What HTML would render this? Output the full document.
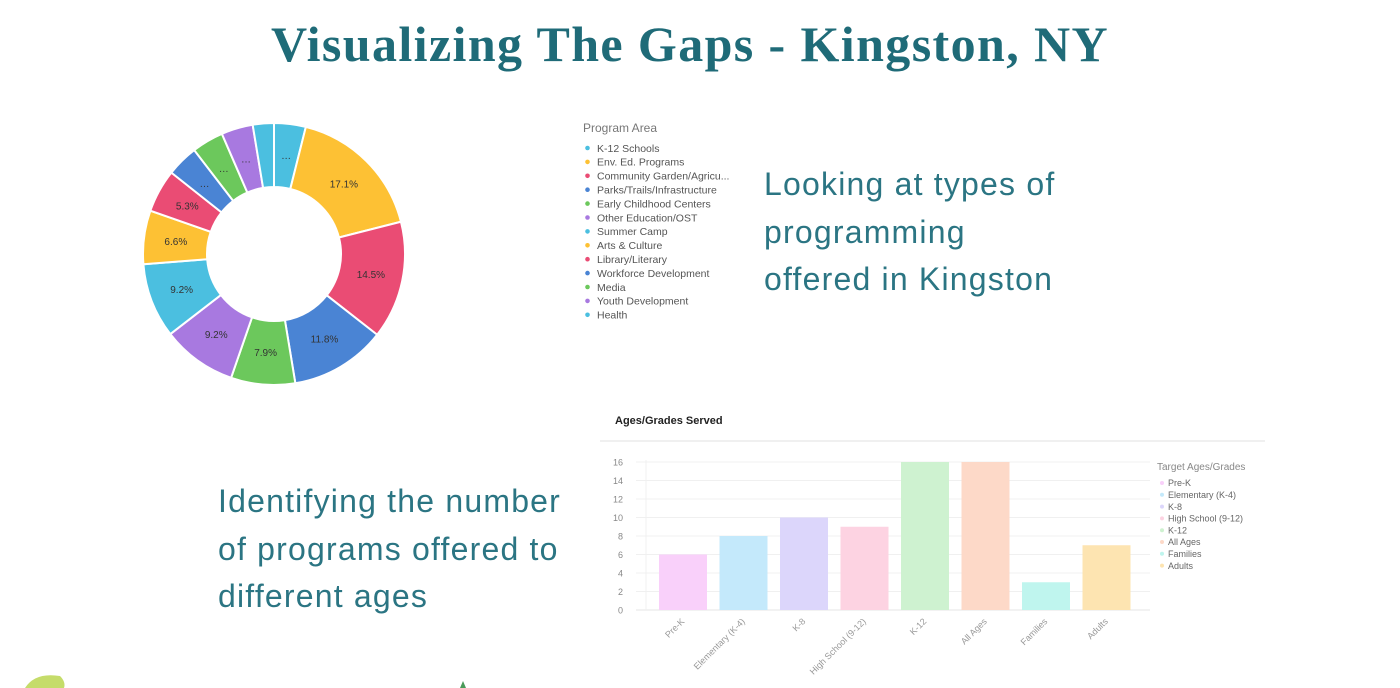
<!DOCTYPE html>
<html><head><meta charset="utf-8"><style>
html,body{margin:0;padding:0;background:#fff;}
body{width:1400px;height:688px;position:relative;overflow:hidden;font-family:"Liberation Sans",sans-serif;}
.t{position:absolute;color:#2b7583;font-size:32px;line-height:47.5px;letter-spacing:1.2px;}
</style></head><body>
<div style="position:absolute;left:-10px;width:1400px;top:15px;text-align:center;font-family:'Liberation Serif',serif;font-weight:bold;font-size:50px;color:#1f6b78;letter-spacing:1.4px;">Visualizing The Gaps - Kingston, NY</div>
<div class="t" style="left:764px;top:161px;">Looking at types of<br>programming<br>offered in Kingston</div>
<div class="t" style="left:218px;top:478px;">Identifying the number<br>of programs offered to<br>different ages</div>
<svg id="s" width="1400" height="688" style="position:absolute;left:0;top:0" font-family="Liberation Sans, sans-serif"></svg>
<script>
var s=document.getElementById('s'),h='';
var C={c:'#4bbfe0',y:'#fdc134',r:'#ea4c74',b:'#4a84d4',g:'#6cc85c',p:'#a879e0'};
var sl=[[3.9,'c','…'],[17.1,'y','17.1%'],[14.5,'r','14.5%'],[11.8,'b','11.8%'],[7.9,'g','7.9%'],[9.2,'p','9.2%'],[9.2,'c','9.2%'],[6.6,'y','6.6%'],[5.3,'r','5.3%'],[3.9,'b','…'],[3.9,'g','…'],[3.9,'p','…'],[2.6,'c','']];
var tot=0;sl.forEach(function(a){tot+=a[0]});
var cx=274,cy=254,R=131,r=67,a0=0;
function pt(rad,a){return [cx+rad*Math.sin(a),cy-rad*Math.cos(a)];}
sl.forEach(function(a){var a1=a0+a[0]/tot*2*Math.PI;var lg=(a1-a0)>Math.PI?1:0;
var p1=pt(R,a0),p2=pt(R,a1),p3=pt(r,a1),p4=pt(r,a0);
h+='<path d="M'+p1+'A'+R+','+R+' 0 '+lg+' 1 '+p2+'L'+p3+'A'+r+','+r+' 0 '+lg+' 0 '+p4+'Z" fill="'+C[a[1]]+'" stroke="#fff" stroke-width="2"/>';
var m=pt((R+r)/2,(a0+a1)/2);h+='<text x="'+m[0]+'" y="'+(m[1]+3.5)+'" font-size="10" fill="#333" text-anchor="middle">'+a[2]+'</text>';a0=a1;});
h+='<text x="583" y="132" font-size="12" fill="#777">Program Area</text>';
var L=[['K-12 Schools','c'],['Env. Ed. Programs','y'],['Community Garden/Agricu...','r'],['Parks/Trails/Infrastructure','b'],['Early Childhood Centers','g'],['Other Education/OST','p'],['Summer Camp','c'],['Arts & Culture','y'],['Library/Literary','r'],['Workforce Development','b'],['Media','g'],['Youth Development','p'],['Health','c']];
L.forEach(function(l,i){var y=148+i*13.9;h+='<circle cx="587.5" cy="'+y+'" r="2.3" fill="'+C[l[1]]+'"/><text x="597" y="'+(y+3.8)+'" font-size="10.5" fill="#555">'+l[0]+'</text>';});
h+='<text x="615" y="424" font-size="11" font-weight="bold" fill="#222">Ages/Grades Served</text>';
h+='<line x1="600" y1="441" x2="1265" y2="441" stroke="#f0f0f0" stroke-width="2"/>';
var y0=610,sc=(610-462)/16;
for(var v=0;v<=16;v+=2){var y=y0-v*sc;h+='<line x1="636" y1="'+y+'" x2="1150" y2="'+y+'" stroke="'+(v?'#f0f0f0':'#e4e4e4')+'"/><text x="623" y="'+(y+3.5)+'" font-size="9" fill="#888" text-anchor="end">'+v+'</text>';}
h+='<line x1="646" y1="460" x2="646" y2="610" stroke="#f0f0f0"/>';
var B=[['Pre-K',6,'#f9d0fa'],['Elementary (K-4)',8,'#c4e9fb'],['K-8',10,'#dcd6fb'],['High School (9-12)',9,'#fdd3e2'],['K-12',16,'#cef2d0'],['All Ages',16,'#fdd9c8'],['Families',3,'#bff5ee'],['Adults',7,'#fde4b1']];
B.forEach(function(b,i){var x=659+i*60.5,y=y0-b[1]*sc;h+='<rect x="'+x+'" y="'+y+'" width="48" height="'+(y0-y)+'" fill="'+b[2]+'"/>';
var tx=x+26,ty=622;h+='<text transform="translate('+tx+','+ty+') rotate(-45)" font-size="9" fill="#999" text-anchor="end">'+b[0]+'</text>';
var ly=483+i*11.8;h+='<circle cx="1162" cy="'+ly+'" r="2" fill="'+b[2]+'"/><text x="1168" y="'+(ly+3.2)+'" font-size="9" fill="#666">'+b[0]+'</text>';});
h+='<text x="1157" y="470" font-size="10" fill="#888">Target Ages/Grades</text>';
h+='<path d="M25,688 Q35,672 60,676 Q66,682 64,688Z" fill="#c5dc6a"/><path d="M460,688 L463,681 L466,688Z" fill="#4a9a5a"/>';
s.innerHTML=h;
</script>
</body></html>
